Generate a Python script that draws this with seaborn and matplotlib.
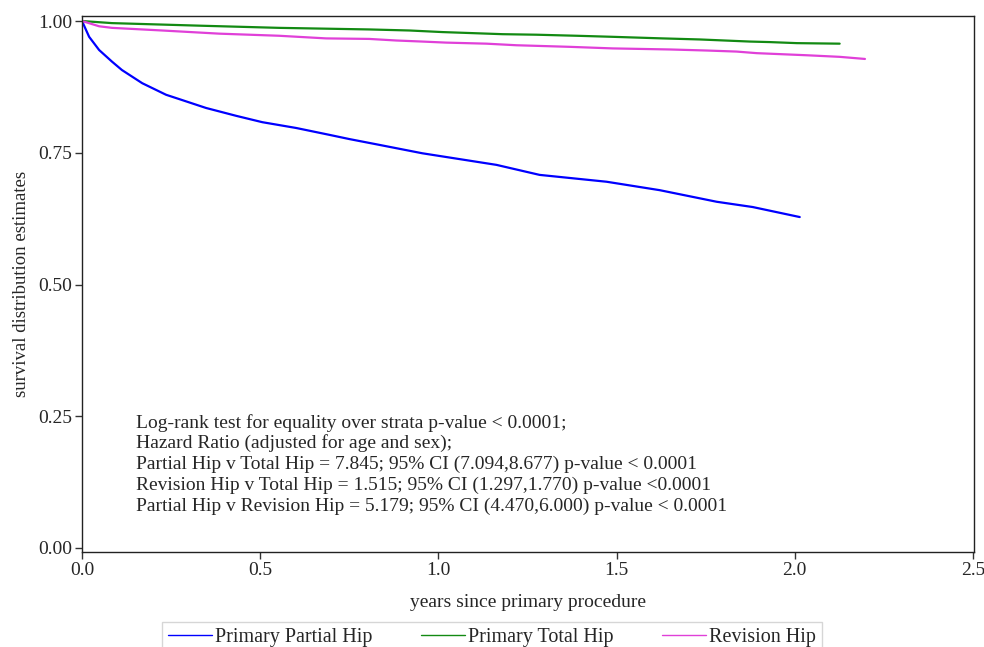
import numpy as np
import pandas as pd
import seaborn as sns
import matplotlib.pyplot as plt

# values
partial_years = [0.0, 0.020, 0.048, 0.084, 0.112, 0.169, 0.236, 0.272, 0.348, 0.433,
                 0.506, 0.601, 0.694, 0.750, 0.834, 0.955, 1.163, 1.284, 1.472, 1.621,
                 1.781, 1.882, 2.014]
partial_surv = [1.000, 0.970, 0.945, 0.923, 0.907, 0.882, 0.860, 0.852, 0.835, 0.820,
                0.808, 0.797, 0.784, 0.776, 0.765, 0.749, 0.727, 0.708, 0.695, 0.679,
                0.657, 0.647, 0.628]

total_years = [0.0, 0.084, 0.337, 0.553, 0.806, 0.919, 1.011, 1.096, 1.180, 1.275,
               1.388, 1.489, 1.629, 1.733, 1.874, 1.930, 2.006, 2.126]
total_surv = [1.000, 0.996, 0.991, 0.987, 0.984, 0.982, 0.979, 0.977, 0.975, 0.974,
              0.972, 0.970, 0.967, 0.965, 0.961, 0.960, 0.958, 0.957]

revision_years = [0.0, 0.048, 0.084, 0.225, 0.385, 0.553, 0.685, 0.806, 0.882, 0.955,
                  1.022, 1.135, 1.219, 1.368, 1.489, 1.649, 1.753, 1.837, 1.893, 2.034,
                  2.126, 2.197]
revision_surv = [1.000, 0.990, 0.987, 0.982, 0.976, 0.972, 0.967, 0.966, 0.963, 0.961,
                 0.959, 0.957, 0.954, 0.951, 0.948, 0.946, 0.944, 0.942, 0.939, 0.935,
                 0.932, 0.928]

groups = ['Primary Partial Hip', 'Primary Total Hip', 'Revision Hip']
colors = ['#0000FF', '#138A13', '#E040D8']

notes = [
    'Log-rank test for equality over strata p-value < 0.0001;',
    'Hazard Ratio (adjusted for age and sex);',
    'Partial Hip v Total Hip = 7.845; 95% CI (7.094,8.677) p-value < 0.0001',
    'Revision Hip v Total Hip = 1.515; 95% CI (1.297,1.770) p-value <0.0001',
    'Partial Hip v Revision Hip = 5.179; 95% CI (4.470,6.000) p-value < 0.0001',
]

df = pd.concat([
    pd.DataFrame({'years': partial_years, 'surv': partial_surv, 'group': groups[0]}),
    pd.DataFrame({'years': total_years, 'surv': total_surv, 'group': groups[1]}),
    pd.DataFrame({'years': revision_years, 'surv': revision_surv, 'group': groups[2]}),
])

sns.set_theme(style='ticks')
plt.rcParams['font.family'] = ['Liberation Serif', 'DejaVu Serif']

fig = plt.figure(figsize=(9.84, 6.47), dpi=100)
ax = fig.add_axes([82 / 984, 1 - 552 / 647, 892 / 984, 536 / 647])

sns.lineplot(data=df, x='years', y='surv', hue='group', hue_order=groups,
             palette=colors, linewidth=1.6, estimator=None, sort=False,
             legend=False, ax=ax)

ax.set_xlim(0, 2.503)
ax.set_ylim(-0.0076, 1.0095)
ax.set_xticks([0.0, 0.5, 1.0, 1.5, 2.0, 2.5])
ax.set_xticklabels(['0.0', '0.5', '1.0', '1.5', '2.0', '2.5'])
ax.set_yticks([0.0, 0.25, 0.5, 0.75, 1.0])
ax.set_yticklabels(['0.00', '0.25', '0.50', '0.75', '1.00'])
ax.tick_params(labelsize=14, length=5, width=1, color='#333333', pad=2)
for s in ax.spines.values():
    s.set_color('#222222')
    s.set_linewidth(1)

ax.set_xlabel('years since primary procedure', fontsize=14, labelpad=11)
ax.set_ylabel('survival distribution estimates', fontsize=13.5, labelpad=6)

line_y = [0.237, 0.199, 0.159, 0.119, 0.079]
for txt, yy in zip(notes, line_y):
    ax.text(0.152, yy, txt, fontsize=14, va='center', ha='left')

handles = [plt.Line2D([], [], color=c, linewidth=1) for c in colors]
fig.legend(handles, groups, loc='upper center', bbox_to_anchor=(0.5, 1 - 622 / 647),
           ncol=3, fontsize=14.5, frameon=True, fancybox=False, edgecolor='#cccccc',
           handlelength=2.2, handletextpad=0.15, columnspacing=2.4, borderpad=0.3,
           borderaxespad=0)

fig.savefig('out.png', dpi=100)
